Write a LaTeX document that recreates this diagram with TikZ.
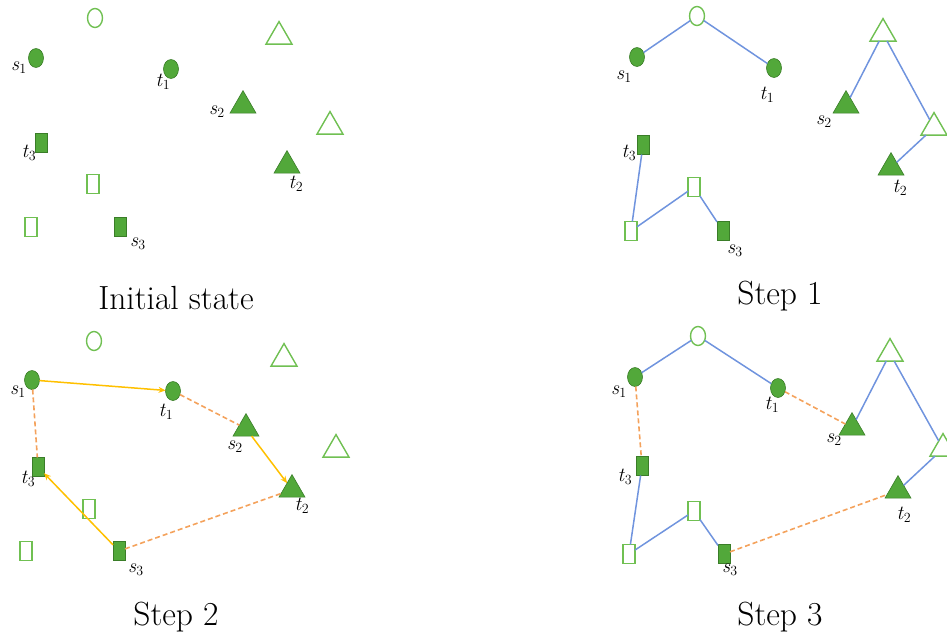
\documentclass[tikz,border=0pt]{standalone}
\usetikzlibrary{shapes.geometric,arrows.meta}
\definecolor{fgreen}{RGB}{82,168,58}
\definecolor{fborder}{RGB}{58,125,40}
\definecolor{hgreen}{RGB}{112,192,82}
\definecolor{bline}{RGB}{112,148,222}
\definecolor{yline}{RGB}{255,192,0}
\definecolor{oline}{RGB}{244,162,92}
\newcommand{\lbl}[2]{\textit{#1}\textsubscript{#2}}
\tikzset{
  fcirc/.style={ellipse,minimum width=15pt,minimum height=19pt,inner sep=0pt,outer sep=0pt,fill=fgreen,draw=fborder,line width=0.6pt},
  hcirc/.style={ellipse,minimum width=15pt,minimum height=19pt,inner sep=0pt,outer sep=0pt,fill=white,draw=hgreen,line width=1.4pt},
  ftri/.style={regular polygon,regular polygon sides=3,minimum size=30pt,inner sep=0pt,outer sep=0pt,fill=fgreen,draw=fborder,line width=0.6pt},
  htri/.style={regular polygon,regular polygon sides=3,minimum size=30pt,inner sep=0pt,outer sep=0pt,fill=white,draw=hgreen,line width=1.4pt},
  frect/.style={rectangle,minimum width=12pt,minimum height=19pt,inner sep=0pt,outer sep=0pt,fill=fgreen,draw=fborder,line width=0.6pt},
  hrect/.style={rectangle,minimum width=12pt,minimum height=19pt,inner sep=0pt,outer sep=0pt,fill=white,draw=hgreen,line width=1.4pt},
  lab/.style={inner sep=0pt,font=\fontsize{20}{22}\selectfont},
  capt/.style={inner sep=0pt,font=\fontsize{33.5}{38}\selectfont},
  bluel/.style={draw=bline,line width=1.5pt},
  yarr/.style={draw=yline,line width=1.5pt,-{Stealth[length=7pt,width=6pt]}},
  odash/.style={draw=oline,line width=1.6pt,dash pattern=on 5pt off 3pt},
}
\begin{document}
\begin{tikzpicture}[x=1pt,y=-1pt]
\useasboundingbox (0,0) rectangle (947,635);
% ---------------- Panel 1: Initial state
\node[hcirc] (ac) at (95,18) {};
\node[fcirc] (as1) at (36,58) {};
\node[fcirc] (at1) at (171,69) {};
\node[htri] (aha) at (279,36.6) {};
\node[ftri] (as2) at (243,105.6) {};
\node[htri] (ahb) at (330,126.6) {};
\node[ftri] (at2) at (287,165.6) {};
\node[frect] (at3) at (41,143) {};
\node[hrect] (ara) at (93,184) {};
\node[hrect] (arb) at (31,227) {};
\node[frect] (as3) at (120,227) {};
\node[lab] (las1) at (19,68) {\lbl{s}{1}};
\node[lab] (lat1) at (163,82) {\lbl{t}{1}};
\node[lab] (las2) at (217,112) {\lbl{s}{2}};
\node[lab] (lat2) at (296,184) {\lbl{t}{2}};
\node[lab] (lat3) at (29,153) {\lbl{t}{3}};
\node[lab] (las3) at (138,244) {\lbl{s}{3}};
\node[capt] (capa) at (176,298) {Initial state};
% ---------------- Panel 2: Step 1
\node[hcirc] (bc) at (697,16) {};
\node[fcirc] (bs1) at (637,57) {};
\node[fcirc] (bt1) at (774,68) {};
\node[htri] (bha) at (883,33.6) {};
\node[ftri] (bs2) at (846,105.6) {};
\node[htri] (bhb) at (934,127.6) {};
\node[ftri] (bt2) at (891,167.6) {};
\node[frect] (bt3) at (643,145) {};
\node[hrect] (bra) at (694,187) {};
\node[hrect] (brb) at (631,231) {};
\node[frect] (bs3) at (723,231) {};
\node[lab] (lbs1) at (624,77) {\lbl{s}{1}};
\node[lab] (lbt1) at (767,95) {\lbl{t}{1}};
\node[lab] (lbs2) at (824,122) {\lbl{s}{2}};
\node[lab] (lbt2) at (900,188) {\lbl{t}{2}};
\node[lab] (lbt3) at (629,153) {\lbl{t}{3}};
\node[lab] (lbs3) at (735,251) {\lbl{s}{3}};
\node[capt] (capb) at (780,296) {Step 1};
\draw[bluel] (bs1) -- (bc);
\draw[bluel] (bc) -- (bt1);
\draw[bluel] (bha) -- (bs2);
\draw[bluel] (bha) -- (bhb);
\draw[bluel] (bhb) -- (bt2);
\draw[bluel] (bt3) -- (brb);
\draw[bluel] (brb) -- (bra);
\draw[bluel] (bra) -- (bs3);
% ---------------- Panel 3: Step 2
\node[hcirc] (cc) at (94,341) {};
\node[fcirc] (cs1) at (32,380) {};
\node[fcirc] (ct1) at (173,391) {};
\node[htri] (cha) at (284,358.6) {};
\node[ftri] (cs2) at (246,428.6) {};
\node[htri] (chb) at (336,449.6) {};
\node[ftri] (ct2) at (292,489.6) {};
\node[frect] (ct3) at (38,467) {};
\node[hrect] (cra) at (89,509) {};
\node[hrect] (crb) at (26,551) {};
\node[frect] (cs3) at (119,551) {};
\node[lab] (lcs1) at (18,392) {\lbl{s}{1}};
\node[lab] (lct1) at (166,412) {\lbl{t}{1}};
\node[lab] (lcs2) at (235,447) {\lbl{s}{2}};
\node[lab] (lct2) at (302,506) {\lbl{t}{2}};
\node[lab] (lct3) at (28,479) {\lbl{t}{3}};
\node[lab] (lcs3) at (136,570) {\lbl{s}{3}};
\node[capt] (capc) at (176,617) {Step 2};
\draw[yarr] (cs1) -- (ct1);
\draw[yarr] (cs2) -- (ct2);
\draw[yarr] (cs3) -- (ct3);
\draw[odash] (cs1) -- (ct3);
\draw[odash] (ct1) -- (cs2);
\draw[odash] (cs3) -- (ct2);
% ---------------- Panel 4: Step 3
\node[hcirc] (dc) at (698,336) {};
\node[fcirc] (ds1) at (635,377) {};
\node[fcirc] (dt1) at (778,388) {};
\node[htri] (dha) at (890,353.6) {};
\node[ftri] (ds2) at (852,427.6) {};
\node[htri] (dhb) at (943,448.6) {};
\node[ftri] (dt2) at (898,490.6) {};
\node[frect] (dt3) at (642,466) {};
\node[hrect] (dra) at (694,511) {};
\node[hrect] (drb) at (629,554) {};
\node[frect] (ds3) at (724,554) {};
\node[lab] (lds1) at (619,392) {\lbl{s}{1}};
\node[lab] (ldt1) at (772,405) {\lbl{t}{1}};
\node[lab] (lds2) at (834,440) {\lbl{s}{2}};
\node[lab] (ldt2) at (904,515) {\lbl{t}{2}};
\node[lab] (ldt3) at (625,477) {\lbl{t}{3}};
\node[lab] (lds3) at (730,570) {\lbl{s}{3}};
\node[capt] (capd) at (780,617) {Step 3};
\draw[bluel] (ds1) -- (dc);
\draw[bluel] (dc) -- (dt1);
\draw[bluel] (dha) -- (ds2);
\draw[bluel] (dha) -- (dhb);
\draw[bluel] (dhb) -- (dt2);
\draw[bluel] (dt3) -- (drb);
\draw[bluel] (drb) -- (dra);
\draw[bluel] (dra) -- (ds3);
\draw[odash] (ds1) -- (dt3);
\draw[odash] (dt1) -- (ds2);
\draw[odash] (ds3) -- (dt2);
\end{tikzpicture}
\end{document}
